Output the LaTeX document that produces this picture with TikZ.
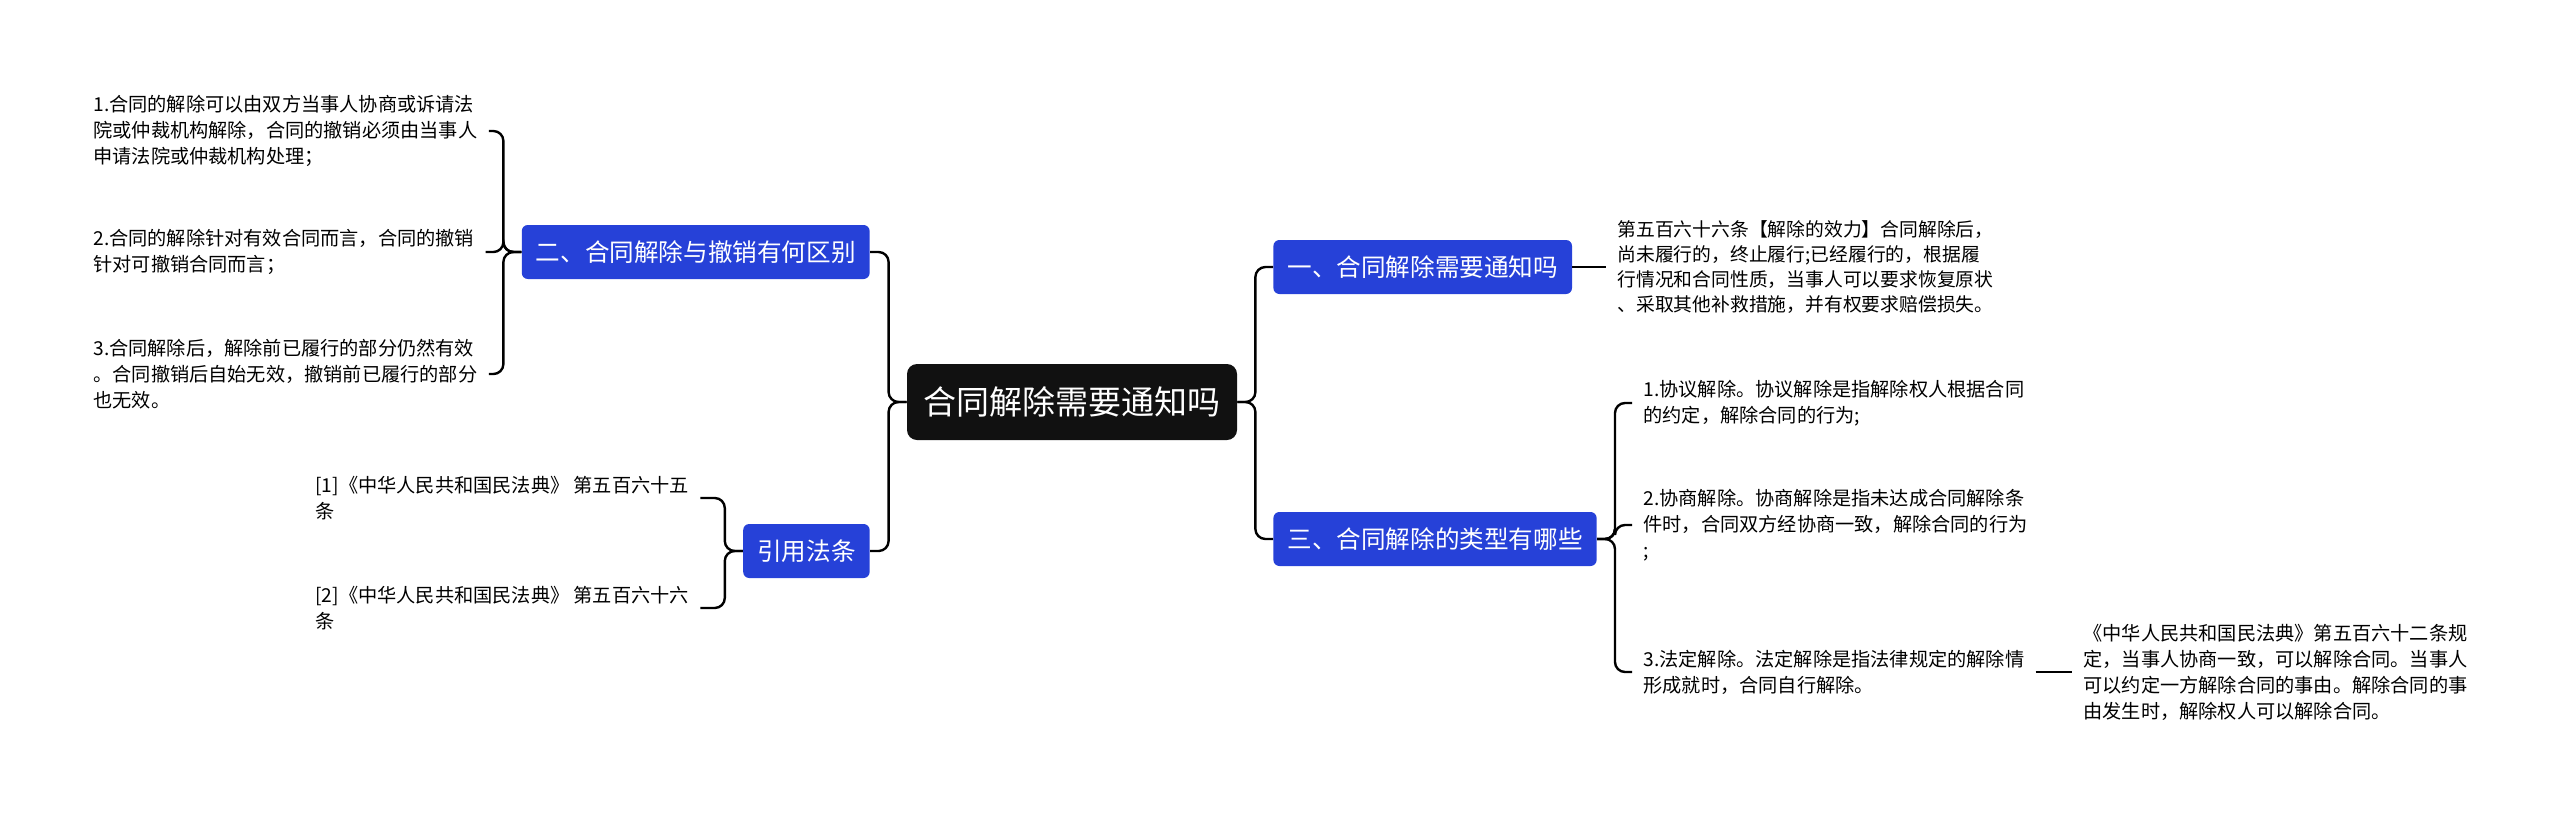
\documentclass[tikz,border=0pt]{standalone}
\usepackage{fontspec}
\setmainfont{Noto Sans CJK SC}
\usepackage{tikz}
\usetikzlibrary{positioning}
\definecolor{topicblue}{HTML}{2641D8}
\definecolor{rootblack}{HTML}{111111}

\begin{document}
\begin{tikzpicture}[x=0.5pt, y=-0.5pt,
  rootbox/.style={fill=rootblack, text=white, rounded corners=5pt, inner xsep=8.25pt,
    minimum height=38pt, font=\fontsize{16.5}{20}\selectfont},
  topic/.style={fill=topicblue, text=white, rounded corners=3pt, inner xsep=7pt,
    minimum height=27pt, font=\fontsize{12.3}{15}\selectfont},
  leaf/.style={align=left, inner xsep=5.5pt, inner ysep=2pt, font=\fontsize{9.6}{13}\selectfont},
  conn/.style={line width=1.2pt, rounded corners=5pt}]
\useasboundingbox (0,0) rectangle (2560,814);
% centre and main topics
\node[rootbox] (root) at (1072,402) {合同解除需要通知吗};
\node[topic, anchor=west] (one) at (1273,267) {一、合同解除需要通知吗};
\node[topic, anchor=west] (three) at (1273,539) {三、合同解除的类型有哪些};
\node[topic, anchor=east] (two) at (870,252) {二、合同解除与撤销有何区别};
\node[topic, anchor=east] (cite) at (870,551) {引用法条};
% left leaves
\node[leaf, anchor=west] (diff1) at (82,131) {1.合同的解除可以由双方当事人协商或诉请法\\院或仲裁机构解除，合同的撤销必须由当事人\\申请法院或仲裁机构处理；};
\node[leaf, anchor=west] (diff2) at (82,252) {2.合同的解除针对有效合同而言，合同的撤销\\针对可撤销合同而言；};
\node[leaf, anchor=west] (diff3) at (82,374) {3.合同解除后，解除前已履行的部分仍然有效\\。合同撤销后自始无效，撤销前已履行的部分\\也无效。};
\node[leaf, anchor=west] (law1) at (304,498) {[1]《中华人民共和国民法典》 第五百六十五\\条};
\node[leaf, anchor=west] (law2) at (304,608) {[2]《中华人民共和国民法典》 第五百六十六\\条};
% right leaves
\node[leaf, anchor=west, font=\fontsize{9.4}{12.5}\selectfont] (effect) at (1606,267) {第五百六十六条【解除的效力】合同解除后，\\尚未履行的，终止履行;已经履行的，根据履\\行情况和合同性质，当事人可以要求恢复原状\\、采取其他补救措施，并有权要求赔偿损失。};
\node[leaf, anchor=west] (kind1) at (1632,403) {1.协议解除。协议解除是指解除权人根据合同\\的约定，解除合同的行为;};
\node[leaf, anchor=west] (kind2) at (1632,525) {2.协商解除。协商解除是指未达成合同解除条\\件时，合同双方经协商一致，解除合同的行为\\;};
\node[leaf, anchor=west] (kind3) at (1632,672) {3.法定解除。法定解除是指法律规定的解除情\\形成就时，合同自行解除。};
\node[leaf, anchor=west] (art) at (2072,672) {《中华人民共和国民法典》第五百六十二条规\\定，当事人协商一致，可以解除合同。当事人\\可以约定一方解除合同的事由。解除合同的事\\由发生时，解除权人可以解除合同。};
% connectors
\draw[conn] (root.east) -- ++(18,0) |- (one.west);
\draw[conn] (root.east) -- ++(18,0) |- (three.west);
\draw[conn] (root.west) -- ++(-18,0) |- (two.east);
\draw[conn] (root.west) -- ++(-18,0) |- (cite.east);
\draw[conn] (one.east) -- (effect.west);
\draw[conn] (three.east) -- ++(18,0) |- (kind1.west);
\draw[conn] (three.east) -- ++(18,0) |- (kind2.west);
\draw[conn] (three.east) -- ++(18,0) |- (kind3.west);
\draw[conn] (kind3.east) -- (art.west);
\draw[conn] (two.west) -- ++(-18,0) |- (diff1.east);
\draw[conn] (two.west) -- ++(-18,0) |- (diff2.east);
\draw[conn] (two.west) -- ++(-18,0) |- (diff3.east);
\draw[conn] (cite.west) -- ++(-18,0) |- (law1.east);
\draw[conn] (cite.west) -- ++(-18,0) |- (law2.east);
\end{tikzpicture}
\end{document}
